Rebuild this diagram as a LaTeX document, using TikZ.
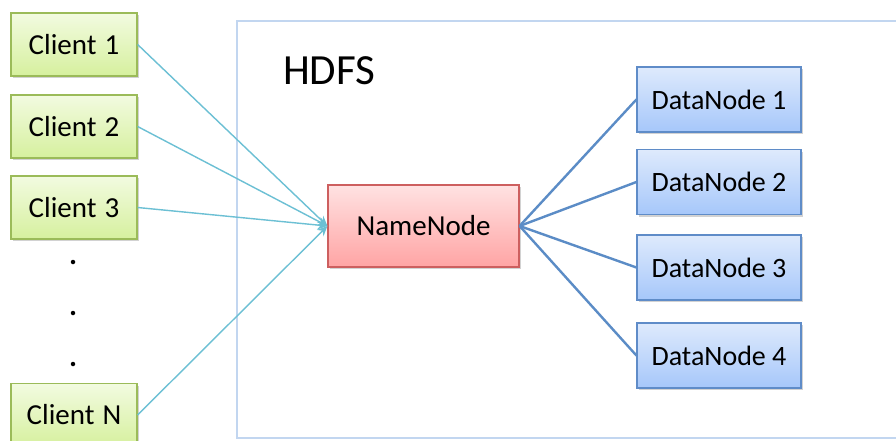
\documentclass[tikz,border=0pt]{standalone}
\usepackage{fontspec}
\setmainfont{Carlito}
\usetikzlibrary{shadows,arrows.meta}
\definecolor{clientline}{HTML}{6CC0D4}
\definecolor{dataline}{HTML}{5B8CC6}
\definecolor{hdfsborder}{HTML}{C2D6F0}
\tikzset{
  boxbase/.style={line width=1.2pt, inner sep=0pt,
    drop shadow={shadow xshift=1.5pt, shadow yshift=-2pt, opacity=0.35}},
  clientbox/.style={boxbase, draw={rgb,255:red,155;green,187;blue,89},
    top color={rgb,255:red,242;green,251;blue,224}, bottom color={rgb,255:red,214;green,240;blue,158},
    minimum width=126pt, minimum height=63pt,
    font=\fontsize{29}{34}\selectfont},
  namebox/.style={boxbase, draw={rgb,255:red,205;green,95;blue,95},
    top color={rgb,255:red,255;green,226;blue,226}, bottom color={rgb,255:red,255;green,164;blue,164},
    minimum width=191pt, minimum height=82pt,
    font=\fontsize{29}{34}\selectfont},
  databox/.style={boxbase, draw={rgb,255:red,95;green,140;blue,200},
    top color={rgb,255:red,222;green,234;blue,252}, bottom color={rgb,255:red,166;green,199;blue,250},
    minimum width=164pt, minimum height=65pt,
    font=\fontsize{28}{33}\selectfont},
  clientlink/.style={draw=clientline, line width=1.4pt, -{Stealth[length=10pt,width=9pt]}},
  datalink/.style={draw=dataline, line width=2.4pt},
  dotmark/.style={circle, fill=black, inner sep=0pt, minimum size=4.5pt}
}
\begin{document}
\begin{tikzpicture}[x=1pt,y=-1pt]
\useasboundingbox (0,0) rectangle (896,441);
\clip (0,0) rectangle (896,441);
\fill[white] (0,0) rectangle (896,441);
% HDFS frame
\draw[hdfsborder, line width=2.5pt] (237,21) rectangle (905,438);
\node[anchor=base west, font=\fontsize{43}{50}\selectfont, inner sep=0pt] (hdfs) at (283,85) {HDFS};
% clients
\node[clientbox] (c1) at (74,44.5) {Client\hspace{8pt}1};
\node[clientbox] (c2) at (74,126.5) {Client\hspace{8pt}2};
\node[clientbox] (c3) at (74,207.5) {Client\hspace{8pt}3};
\node[clientbox] (cn) at (74,415) {Client\hspace{8pt}N};
\node[dotmark] (d1) at (73,262) {};
\node[dotmark] (d2) at (73,313) {};
\node[dotmark] (d3) at (73,364) {};
% namenode
\node[namebox] (nn) at (423.5,226) {NameNode};
% datanodes
\node[databox] (dn1) at (719,99.5) {DataNode 1};
\node[databox] (dn2) at (719,182) {DataNode 2};
\node[databox] (dn3) at (719,267.5) {DataNode 3};
\node[databox] (dn4) at (719,355.5) {DataNode 4};
% links
\foreach \c in {c1,c2,c3,cn} \draw[clientlink] (\c.east) -- (nn.west);
\foreach \d in {dn1,dn2,dn3,dn4} \draw[datalink] (nn.east) -- (\d.west);
\end{tikzpicture}
\end{document}
